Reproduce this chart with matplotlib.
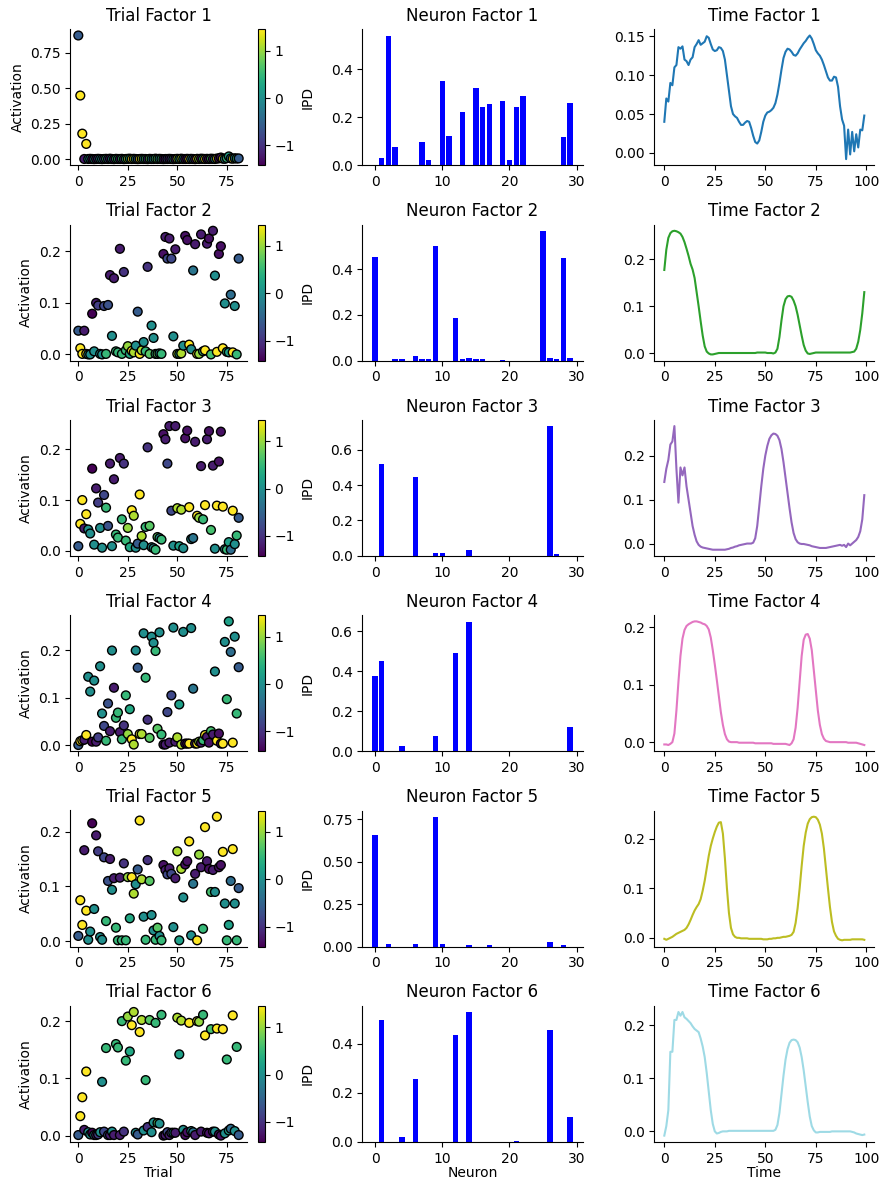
import numpy as np
import matplotlib
matplotlib.use("Agg")
import matplotlib.pyplot as plt

# ── Data ──
# IPD per trial (colour of the scatter points)
ipd = [
    -0.6, 1.45, 1.45, -1.2, 1.45, 0.0, 0.0, -1.42, 0.0, -1.2,
    -0.9, 0.0, 0.0, -0.8, 0.5, -0.7, -1.2, 0.0, -1.2, 0.5,
    0.5, -1.2, 0.5, -1.0, 0.5, 1.0, 0.3, 1.45, 1.1, 0.0,
    -0.6, 1.45, 1.1, 0.0, 0.5, -1.0, 0.7, 0.0, 0.0, 0.5,
    0.7, 0.0, 0.5, -1.3, -1.2, -0.8, -1.2, -0.8, 0.0, -1.2,
    1.1, 0.2, 1.1, 0.0, -1.3, -1.3, 1.45, 0.0, -0.3, -1.2,
    1.45, 1.0, -1.2, 0.5, 1.45, -1.2, -1.3, 0.6, -1.2, 0.0,
    1.45, -1.3, -1.3, 1.45, 0.0, 0.5, 0.2, -0.4, 1.45, 0.0,
    0.5, -0.6,
]

trial_1 = [
    0.870, 0.448, 0.180, 0.002, 0.108, 0.002, 0.003, 0.002, 0.001, 0.002,
    0.003, 0.002, 0.001, 0.002, 0.003, 0.002, 0.004, 0.002, 0.001, 0.003,
    0.002, 0.002, 0.003, 0.001, 0.002, 0.003, 0.004, 0.002, 0.003, 0.002,
    0.001, 0.002, 0.003, 0.002, 0.002, 0.001, 0.003, 0.002, 0.002, 0.004,
    0.002, 0.003, 0.002, 0.001, 0.002, 0.002, 0.003, 0.002, 0.001, 0.002,
    0.003, 0.002, 0.004, 0.002, 0.002, 0.003, 0.002, 0.003, 0.002, 0.001,
    0.003, 0.002, 0.004, 0.003, 0.002, 0.003, 0.002, 0.004, 0.003, 0.002,
    0.005, 0.006, 0.012, 0.004, 0.003, 0.008, 0.020, 0.006, 0.004, 0.007,
    0.005, 0.006,
]
trial_2 = [
    0.046, 0.012, 0.001, 0.046, 0.001, 0.000, 0.000, 0.079, 0.006, 0.100,
    0.095, 0.001, 0.000, 0.094, 0.001, 0.096, 0.154, 0.036, 0.148, 0.006,
    0.004, 0.205, 0.001, 0.160, 0.008, 0.016, 0.001, 0.007, 0.004, 0.017,
    0.083, 0.001, 0.008, 0.024, 0.006, 0.170, 0.001, 0.056, 0.032, 0.001,
    0.001, 0.002, 0.001, 0.195, 0.228, 0.186, 0.225, 0.186, 0.035, 0.204,
    0.001, 0.001, 0.002, 0.017, 0.230, 0.222, 0.019, 0.010, 0.163, 0.214,
    0.001, 0.001, 0.233, 0.006, 0.008, 0.215, 0.225, 0.000, 0.240, 0.153,
    0.005, 0.195, 0.210, 0.012, 0.099, 0.005, 0.004, 0.116, 0.004, 0.094,
    0.000, 0.186,
]
trial_3 = [
    0.009, 0.053, 0.100, 0.044, 0.072, 0.042, 0.034, 0.162, 0.012, 0.123,
    0.095, 0.045, 0.006, 0.110, 0.085, 0.049, 0.172, 0.009, 0.141, 0.032,
    0.026, 0.183, 0.062, 0.172, 0.020, 0.045, 0.007, 0.080, 0.069, 0.006,
    0.014, 0.111, 0.029, 0.011, 0.047, 0.204, 0.049, 0.007, 0.005, 0.002,
    0.027, 0.025, 0.022, 0.230, 0.220, 0.172, 0.246, 0.079, 0.010, 0.246,
    0.084, 0.009, 0.081, 0.005, 0.222, 0.237, 0.086, 0.023, 0.025, 0.215,
    0.069, 0.065, 0.167, 0.062, 0.090, 0.220, 0.236, 0.041, 0.168, 0.004,
    0.089, 0.176, 0.235, 0.087, 0.003, 0.002, 0.017, 0.002, 0.079, 0.013,
    0.030, 0.065,
]
trial_4 = [
    0.001, 0.009, 0.011, 0.012, 0.022, 0.144, 0.113, 0.008, 0.136, 0.008,
    0.017, 0.166, 0.067, 0.041, 0.010, 0.088, 0.030, 0.199, 0.121, 0.058,
    0.069, 0.028, 0.013, 0.042, 0.105, 0.024, 0.076, 0.013, 0.002, 0.199,
    0.163, 0.024, 0.024, 0.235, 0.142, 0.054, 0.016, 0.228, 0.215, 0.198,
    0.035, 0.237, 0.023, 0.002, 0.002, 0.070, 0.006, 0.105, 0.247, 0.008,
    0.017, 0.086, 0.002, 0.238, 0.004, 0.004, 0.004, 0.246, 0.119, 0.004,
    0.004, 0.008, 0.006, 0.011, 0.022, 0.018, 0.006, 0.030, 0.023, 0.155,
    0.010, 0.025, 0.004, 0.004, 0.217, 0.097, 0.260, 0.196, 0.006, 0.228,
    0.067, 0.164,
]
trial_5 = [
    0.010, 0.075, 0.030, 0.166, 0.056, 0.003, 0.018, 0.215, 0.059, 0.193,
    0.164, 0.008, 0.003, 0.153, 0.037, 0.110, 0.150, 0.094, 0.115, 0.025,
    0.002, 0.116, 0.002, 0.142, 0.002, 0.117, 0.042, 0.117, 0.087, 0.104,
    0.131, 0.220, 0.113, 0.045, 0.003, 0.148, 0.110, 0.048, 0.020, 0.003,
    0.025, 0.010, 0.002, 0.139, 0.130, 0.122, 0.133, 0.123, 0.026, 0.115,
    0.164, 0.002, 0.132, 0.080, 0.140, 0.146, 0.182, 0.011, 0.105, 0.123,
    0.002, 0.158, 0.135, 0.023, 0.208, 0.146, 0.132, 0.090, 0.130, 0.090,
    0.227, 0.135, 0.139, 0.163, 0.069, 0.002, 0.030, 0.110, 0.168, 0.069,
    0.002, 0.097,
]
trial_6 = [
    0.001, 0.034, 0.067, 0.010, 0.112, 0.006, 0.002, 0.005, 0.001, 0.001,
    0.002, 0.006, 0.094, 0.007, 0.153, 0.001, 0.001, 0.007, 0.001, 0.160,
    0.154, 0.001, 0.200, 0.007, 0.131, 0.208, 0.147, 0.193, 0.216, 0.005,
    0.002, 0.181, 0.202, 0.009, 0.097, 0.015, 0.202, 0.006, 0.023, 0.197,
    0.022, 0.021, 0.211, 0.000, 0.001, 0.006, 0.001, 0.005, 0.005, 0.005,
    0.206, 0.142, 0.201, 0.010, 0.001, 0.006, 0.197, 0.008, 0.006, 0.001,
    0.200, 0.199, 0.007, 0.211, 0.175, 0.005, 0.004, 0.186, 0.007, 0.007,
    0.187, 0.002, 0.000, 0.186, 0.004, 0.133, 0.009, 0.012, 0.210, 0.008,
    0.155, 0.001,
]

neuron_1 = [0, 0.031, 0.539, 0.076, 0, 0, 0, 0.097, 0.022, 0,
            0.351, 0.122, 0, 0.222, 0, 0.322, 0.243, 0.256, 0, 0.267,
            0.022, 0.243, 0.287, 0, 0, 0, 0, 0, 0.118, 0.260]
neuron_2 = [0.453, 0, 0, 0.005, 0.005, 0, 0.022, 0.005, 0.005, 0.501,
            0, 0, 0.188, 0.005, 0.013, 0.005, 0.005, 0, 0, 0.004,
            0, 0, 0, 0, 0, 0.567, 0.013, 0.005, 0.451, 0.013]
neuron_3 = [0, 0.518, 0, 0, 0, 0, 0.445, 0, 0, 0.016,
            0.016, 0, 0, 0, 0.035, 0, 0, 0, 0, 0,
            0, 0, 0, 0, 0, 0, 0.731, 0.012, 0, 0]
neuron_4 = [0.375, 0.449, 0, 0, 0.025, 0, 0, 0, 0, 0.076,
            0, 0, 0.489, 0, 0.648, 0, 0, 0, 0, 0,
            0, 0, 0, 0, 0, 0, 0, 0, 0, 0.121]
neuron_5 = [0.658, 0, 0.012, 0, 0, 0, 0.012, 0, 0, 0.764,
            0.012, 0, 0, 0, 0.006, 0, 0, 0.006, 0, 0,
            0, 0, 0, 0, 0, 0, 0.025, 0, 0.006, 0]
neuron_6 = [0, 0.495, 0, 0, 0.018, 0, 0.258, 0, 0, 0,
            0, 0, 0.434, 0, 0.528, 0, 0, 0, 0, 0,
            0, 0.005, 0, 0, 0, 0, 0.454, 0, 0, 0.103]

time_1 = [
    0.040, 0.070, 0.066, 0.090, 0.087, 0.110, 0.113, 0.136, 0.134, 0.137,
    0.120, 0.118, 0.113, 0.120, 0.123, 0.136, 0.140, 0.145, 0.139, 0.141,
    0.143, 0.150, 0.148, 0.140, 0.133, 0.131, 0.132, 0.136, 0.135, 0.131,
    0.120, 0.100, 0.080, 0.060, 0.050, 0.047, 0.045, 0.040, 0.036, 0.036,
    0.039, 0.041, 0.040, 0.032, 0.022, 0.014, 0.012, 0.016, 0.027, 0.040,
    0.048, 0.052, 0.053, 0.055, 0.058, 0.064, 0.075, 0.090, 0.107, 0.122,
    0.130, 0.134, 0.133, 0.130, 0.126, 0.125, 0.128, 0.133, 0.137, 0.141,
    0.144, 0.148, 0.151, 0.147, 0.140, 0.132, 0.128, 0.125, 0.120, 0.113,
    0.105, 0.097, 0.093, 0.093, 0.098, 0.097, 0.085, 0.060, 0.043, 0.035,
    -0.008, 0.030, -0.002, 0.027, 0.002, 0.024, 0.007, 0.030, 0.029, 0.048,
]
time_2 = [
    0.177, 0.220, 0.245, 0.255, 0.259, 0.260, 0.259, 0.257, 0.254, 0.247,
    0.236, 0.222, 0.207, 0.190, 0.178, 0.160, 0.130, 0.100, 0.068, 0.038,
    0.015, 0.004, 0.000, -0.002, -0.002, -0.001, 0.000, 0.001, 0.001, 0.001,
    0.001, 0.001, 0.001, 0.001, 0.001, 0.001, 0.001, 0.001, 0.001, 0.001,
    0.001, 0.001, 0.001, 0.001, 0.001, 0.001, 0.002, 0.002, 0.002, 0.002,
    0.002, 0.001, 0.001, 0.001, 0.000, 0.002, 0.010, 0.035, 0.070, 0.100,
    0.115, 0.121, 0.122, 0.120, 0.112, 0.100, 0.082, 0.060, 0.038, 0.018,
    0.006, 0.000, -0.001, 0.000, 0.001, 0.002, 0.002, 0.002, 0.002, 0.002,
    0.002, 0.002, 0.002, 0.002, 0.002, 0.002, 0.002, 0.002, 0.002, 0.002,
    0.002, 0.002, 0.002, 0.003, 0.004, 0.010, 0.025, 0.050, 0.085, 0.130,
]
time_3 = [
    0.140, 0.170, 0.190, 0.225, 0.232, 0.267, 0.170, 0.093, 0.173, 0.155,
    0.173, 0.130, 0.100, 0.070, 0.040, 0.020, 0.005, -0.003, -0.007, -0.009,
    -0.010, -0.011, -0.012, -0.013, -0.014, -0.014, -0.014, -0.014, -0.014, -0.014,
    -0.014, -0.013, -0.012, -0.010, -0.009, -0.007, -0.006, -0.004, -0.003, -0.002,
    -0.001, 0.000, 0.000, 0.000, 0.002, 0.012, 0.040, 0.085, 0.130, 0.170,
    0.200, 0.222, 0.238, 0.246, 0.250, 0.249, 0.245, 0.235, 0.215, 0.185,
    0.150, 0.115, 0.080, 0.048, 0.024, 0.010, 0.003, 0.000, -0.001, -0.001,
    -0.002, -0.003, -0.004, -0.006, -0.007, -0.008, -0.009, -0.010, -0.010, -0.010,
    -0.010, -0.009, -0.008, -0.007, -0.006, -0.005, -0.004, -0.003, -0.005, -0.003,
    -0.008, 0.000, -0.004, 0.000, 0.004, 0.008, 0.015, 0.028, 0.055, 0.110,
]
time_4 = [
    -0.004, -0.004, -0.005, -0.003, 0.000, 0.015, 0.055, 0.105, 0.150, 0.180,
    0.195, 0.202, 0.205, 0.207, 0.209, 0.210, 0.210, 0.209, 0.208, 0.206,
    0.205, 0.202, 0.196, 0.182, 0.160, 0.135, 0.108, 0.080, 0.052, 0.030,
    0.014, 0.005, 0.001, 0.000, 0.000, 0.000, 0.000, -0.001, -0.001, -0.001,
    -0.001, -0.001, -0.001, -0.001, -0.001, -0.002, -0.002, -0.002, -0.002, -0.002,
    -0.002, -0.002, -0.002, -0.002, -0.003, -0.003, -0.003, -0.003, -0.003, -0.003,
    -0.003, -0.004, -0.005, -0.002, 0.005, 0.025, 0.060, 0.105, 0.150, 0.178,
    0.187, 0.188, 0.180, 0.160, 0.125, 0.090, 0.055, 0.030, 0.014, 0.006,
    0.002, 0.001, 0.000, 0.000, 0.000, 0.000, 0.000, 0.000, 0.000, 0.000,
    0.000, -0.001, -0.001, -0.001, -0.001, -0.001, -0.002, -0.003, -0.004, -0.005,
]
time_5 = [
    -0.002, -0.004, -0.002, 0.000, 0.002, 0.005, 0.008, 0.010, 0.012, 0.014,
    0.016, 0.020, 0.027, 0.036, 0.046, 0.055, 0.062, 0.068, 0.078, 0.095,
    0.115, 0.140, 0.165, 0.185, 0.200, 0.213, 0.224, 0.232, 0.233, 0.210,
    0.160, 0.100, 0.050, 0.020, 0.007, 0.002, 0.000, 0.000, -0.001, -0.001,
    -0.001, -0.001, -0.002, -0.002, -0.002, -0.002, -0.002, -0.002, -0.002, -0.003,
    -0.003, -0.003, -0.002, -0.002, -0.001, -0.001, 0.000, 0.000, 0.001, 0.002,
    0.002, 0.003, 0.004, 0.006, 0.012, 0.030, 0.060, 0.100, 0.145, 0.185,
    0.212, 0.230, 0.239, 0.243, 0.244, 0.243, 0.238, 0.228, 0.210, 0.180,
    0.140, 0.100, 0.062, 0.032, 0.013, 0.004, -0.002, -0.004, -0.005, -0.004,
    -0.004, -0.004, -0.004, -0.003, -0.003, -0.003, -0.003, -0.003, -0.003, -0.004,
]
time_6 = [
    -0.008, 0.010, 0.040, 0.150, 0.150, 0.210, 0.210, 0.225, 0.218, 0.225,
    0.215, 0.212, 0.208, 0.204, 0.198, 0.193, 0.190, 0.187, 0.175, 0.160,
    0.140, 0.110, 0.075, 0.040, 0.014, 0.000, -0.004, -0.003, -0.001, 0.000,
    0.000, 0.000, 0.001, 0.001, 0.001, 0.001, 0.001, 0.001, 0.001, 0.001,
    0.001, 0.001, 0.001, 0.001, 0.001, 0.001, 0.001, 0.001, 0.001, 0.001,
    0.001, 0.001, 0.001, 0.001, 0.001, 0.003, 0.012, 0.035, 0.070, 0.105,
    0.135, 0.155, 0.167, 0.172, 0.173, 0.172, 0.168, 0.158, 0.140, 0.115,
    0.085, 0.055, 0.028, 0.010, 0.002, -0.002, -0.002, -0.001, -0.001, -0.001,
    -0.001, -0.001, -0.001, 0.000, 0.000, 0.000, 0.000, 0.000, 0.000, 0.000,
    0.000, 0.000, 0.000, -0.001, -0.002, -0.004, -0.005, -0.006, -0.007, -0.006,
]

trial_factors = [trial_1, trial_2, trial_3, trial_4, trial_5, trial_6]
neuron_factors = [neuron_1, neuron_2, neuron_3, neuron_4, neuron_5, neuron_6]
time_factors = [time_1, time_2, time_3, time_4, time_5, time_6]

# ── Layout (pixels in an 889x1189 canvas) ──
W, H = 889, 1189
ROW_TOP, ROW_PITCH, ROW_H = 29.3, 195.3, 136.0
COLS = {"trial": (70.3, 176.4), "cbar": (257.7, 7.0),
        "neuron": (362.3, 220.4), "time": (654.3, 220.0)}


def rect(col, row):
    x, w = COLS[col]
    top = ROW_TOP + row * ROW_PITCH
    return [x / W, 1 - (top + ROW_H) / H, w / W, ROW_H / H]


# ── Plot ──
n_rank = len(trial_factors)
colors = plt.cm.tab20(np.linspace(0, 1, n_rank))

fig = plt.figure(figsize=(W / 100, H / 100), dpi=100)

for i in range(n_rank):
    ax_t = fig.add_axes(rect("trial", i))
    cax = fig.add_axes(rect("cbar", i))
    ax_n = fig.add_axes(rect("neuron", i))
    ax_time = fig.add_axes(rect("time", i))

    tr = trial_factors[i]
    sc = ax_t.scatter(np.arange(len(tr)), tr, c=ipd, cmap="viridis",
                      edgecolors="k", s=40)
    cb = fig.colorbar(sc, cax=cax)
    cb.set_label("IPD")
    ax_t.set_title(f"Trial Factor {i + 1}")
    ax_t.set_ylabel("Activation")

    nf = neuron_factors[i]
    ax_n.bar(np.arange(len(nf)), nf, color="blue")
    ax_n.set_title(f"Neuron Factor {i + 1}")

    tf = time_factors[i]
    ax_time.plot(np.arange(len(tf)), tf, color=colors[i])
    ax_time.set_title(f"Time Factor {i + 1}")

    for ax in (ax_t, ax_n, ax_time):
        ax.spines["top"].set_visible(False)
        ax.spines["right"].set_visible(False)

    if i == n_rank - 1:
        ax_t.set_xlabel("Trial", labelpad=0)
        ax_n.set_xlabel("Neuron", labelpad=0)
        ax_time.set_xlabel("Time", labelpad=0)

fig.savefig("out.png", dpi=100)
plt.close(fig)
